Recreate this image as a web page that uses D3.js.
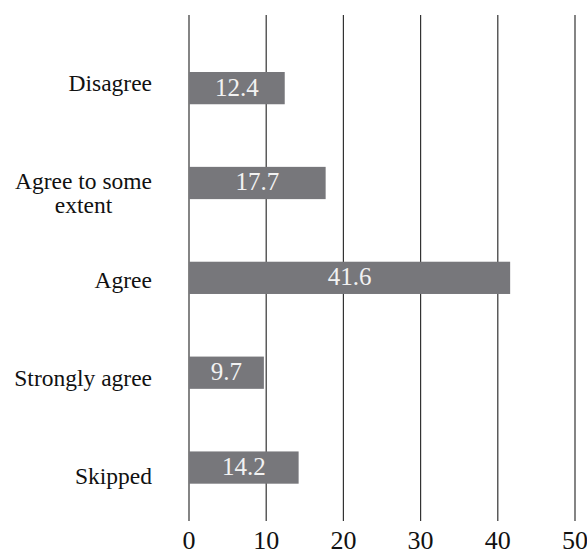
<!DOCTYPE html>
<html>
<head>
<meta charset="utf-8">
<script src="https://cdn.jsdelivr.net/npm/d3@7"></script>
</head>
<body style="margin:0">
<svg id="s" width="587" height="555" font-family="Liberation Serif" style="display:block"></svg>
<script>
const categories = ["Disagree", "Agree to some extent", "Agree", "Strongly agree", "Skipped"];
const categoryLines = [["Disagree"], ["Agree to some", "extent"], ["Agree"], ["Strongly agree"], ["Skipped"]];
const values = [12.4, 17.7, 41.6, 9.7, 14.2];
const tickValues = [0, 10, 20, 30, 40, 50];

const svg = d3.select("#s");
const FONT = '"Liberation Serif"';

const x = d3.scaleLinear().domain([0, 50]).range([189, 575]);
const y = d3.scaleBand().domain(categories).range([40.7, 515]).paddingInner(0.66).paddingOuter(0.33);
const yLabel = d3.scalePoint().domain(categories).range([91, 484]);

const gridTop = 15, gridBottom = 521;

// gridlines
svg.append("g").selectAll("line").data(tickValues).join("line")
  .attr("x1", d => x(d)).attr("x2", d => x(d))
  .attr("y1", gridTop).attr("y2", gridBottom)
  .attr("stroke", "#333").attr("stroke-width", 1.2);

// tick labels
svg.selectAll("text.tick").data(tickValues).join("text")
  .attr("class", "tick")
  .attr("x", d => x(d)).attr("y", 549)
  .attr("text-anchor", "middle")
  .attr("fill", "#111")
  .style("font-family", FONT).style("font-size", "26px")
  .text(d => d);

// bars
svg.append("g").selectAll("rect").data(values).join("rect")
  .attr("x", x(0))
  .attr("y", (d, i) => y(categories[i]))
  .attr("width", d => x(d) - x(0))
  .attr("height", y.bandwidth())
  .attr("fill", "#77777b");

// value labels
svg.selectAll("text.val").data(values).join("text")
  .attr("class", "val")
  .attr("x", d => (x(0) + x(d)) / 2)
  .attr("y", (d, i) => y(categories[i]) + y.bandwidth() / 2 + 7.5)
  .attr("text-anchor", "middle")
  .attr("fill", "#f2f2f2")
  .style("font-family", FONT)
  .style("font-size", "25px")
  .text(d => d.toFixed(1));

// category labels
const labelRight = 152;
categories.forEach((c, i) => {
  const lines = categoryLines[i];
  const base = yLabel(c);
  const t = svg.append("text")
    .attr("fill", "#111")
    .style("font-family", FONT).style("font-size", "23.5px");
  if (lines.length === 1) {
    t.attr("x", labelRight).attr("y", base).attr("text-anchor", "end").text(lines[0]);
  } else {
    t.attr("text-anchor", "middle");
    lines.forEach((l, j) => t.append("tspan").attr("y", base + j * 23.5).text(l));
    let maxW = 0;
    t.selectAll("tspan").each(function () { maxW = Math.max(maxW, this.getComputedTextLength()); });
    t.selectAll("tspan").attr("x", labelRight - maxW / 2);
  }
});
</script>
</body>
</html>
